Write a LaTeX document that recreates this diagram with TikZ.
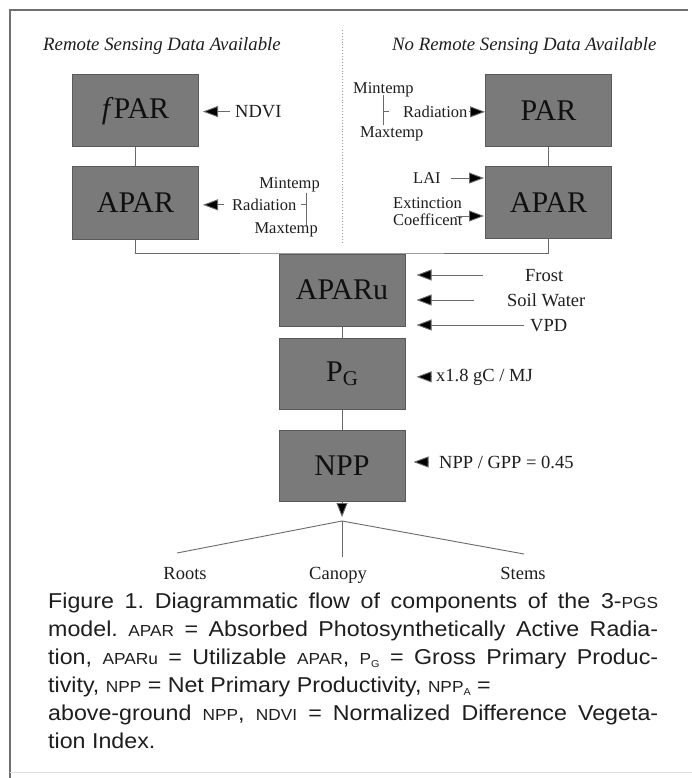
\documentclass[tikz,border=0pt]{standalone}
\usepackage{fontspec}
\setmainfont{Liberation Serif}
\newfontfamily\capfont[FakeStretch=1.08]{Liberation Sans}
\usetikzlibrary{arrows.meta}
\definecolor{boxfill}{HTML}{7A7A7A}
\definecolor{boxedge}{HTML}{5A5A5A}
\definecolor{boxtext}{HTML}{101010}
\definecolor{linegray}{HTML}{6A6A6A}
\definecolor{labeltext}{HTML}{1E1E1E}
\definecolor{framegray}{HTML}{707070}
\newcommand{\smc}[1]{{\fontsize{16}{16}\selectfont #1}}
\newcommand{\capline}[1]{\makebox[610pt][s]{#1}}
\frenchspacing
\begin{document}
\begin{tikzpicture}[x=1pt,y=-1pt,
  box/.style={draw=boxedge, fill=boxfill, line width=1pt, minimum width=126pt,
    minimum height=72pt, inner sep=0pt, text=boxtext, font=\fontsize{30}{30}\selectfont},
  lbl/.style={inner sep=0pt, text=labeltext, font=\fontsize{18.5}{20}\selectfont},
  slbl/.style={inner sep=0pt, text=labeltext, font=\fontsize{16.5}{18}\selectfont},
  hdr/.style={inner sep=0pt, text=labeltext, font=\fontsize{18.8}{20}\selectfont\itshape},
  capt/.style={inner sep=0pt, anchor=base west, text=labeltext, font=\capfont\fontsize{21.5}{28}\selectfont},
  link/.style={draw=linegray, line width=0.9pt},
  arr/.style={link, -{Triangle[length=15pt,width=11pt,fill=black]}},
  frame/.style={draw=framegray, line width=1.4pt}]
\useasboundingbox (0,0) rectangle (692,778);
\fill[white] (0,0) rectangle (692,778);

% frame
\draw[frame] (10,778) -- (10,10) -- (688,10);
\draw[draw=black!12, line width=0.8pt] (10,772) -- (692,772);
\draw[draw=black!40, line width=0.9pt, dotted] (342,30) -- (342,243);

% headers
\node[hdr, anchor=base west] (hl) at (43,51) {Remote Sensing Data Available};
\node[hdr, anchor=base west] (hr) at (392,51) {No Remote Sensing Data Available};

% boxes
\node[box] (fpar) at (135.5,111) {\textit{f}PAR};
\node[box] (aparL) at (135.5,203) {APAR};
\node[box] (par) at (548.5,111) {PAR};
\node[box] (aparR) at (548.5,202.5) {APAR};
\node[box] (aparu) at (342,290) {APARu};
\node[box, minimum height=71pt] (pg) at (342,373.5) {P\raisebox{-0.28ex}{\fontsize{21}{21}\selectfont G}};
\node[box, minimum height=71pt] (npp) at (342,465.5) {NPP};

% box links
\coordinate (jn) at (342,253);
\draw[link] (fpar.south) -- (aparL.north);
\draw[link] (par.south) -- (aparR.north);
\draw[link] (aparL.south) |- (jn) -| (aparR.south);
\draw[link] (aparu.south) -- (pg.north);
\draw[link] (pg.south) -- (npp.north);

% left side inputs
\node[lbl, anchor=base west] (ndvi) at (235,117.5) {NDVI};
\draw[arr, shorten <=5pt, shorten >=4pt] (ndvi.west) -- (ndvi.west -| fpar.east);

\node[slbl, anchor=base east] (minL) at (320,189) {Mintemp};
\node[slbl, anchor=base west] (radL) at (232,210.5) {Radiation};
\node[slbl, anchor=base east] (maxL) at (318,233) {Maxtemp};
\coordinate (lbt) at (306,193);
\coordinate (lbb) at (306,225);
\draw[link] (lbt) -- (lbb);
\draw[link, shorten <=4pt] (radL.east) -- (radL.east -| lbt);
\draw[arr, shorten <=8pt, shorten >=4pt] (radL.west) -- (radL.west -| aparL.east);

% right side inputs
\node[slbl, anchor=base west] (minR) at (353,94) {Mintemp};
\node[slbl, anchor=base west] (maxR) at (360,138) {Maxtemp};
\node[slbl, anchor=base west] (radR) at (403,117.5) {Radiation};
\coordinate (rbt) at (383,95);
\coordinate (rbb) at (383,125);
\draw[link] (rbt) -- (rbb);
\draw[link, shorten >=14pt] (radR.west -| rbt) -- (radR.west);
\draw[arr, shorten <=1pt] (radR.east) -- (radR.east -| par.west);

\node[slbl, anchor=base west] (lai) at (413,183.5) {LAI};
\draw[arr, shorten <=10pt, shorten >=1pt] (lai.east) -- (lai.east -| aparR.west);
\node[slbl, anchor=base west] (ext) at (393,208.5) {Extinction};
\node[slbl, anchor=base west] (coef) at (393,225.5) {Coefficent};
\coordinate (extA) at (456,216);
\draw[arr, shorten >=1pt] (extA) -- (extA -| aparR.west);

% APARu inputs
\node[lbl, anchor=base west] (frost) at (525,281) {Frost};
\node[lbl, anchor=base west] (soil) at (507,306) {Soil Water};
\node[lbl, anchor=base west] (vpd) at (530,331) {VPD};
\coordinate (frS) at (483,275);
\coordinate (soS) at (474,300);
\coordinate (vpS) at (524,325);
\draw[arr, shorten >=11pt] (frS) -- (frS -| aparu.east);
\draw[arr, shorten >=11pt] (soS) -- (soS -| aparu.east);
\draw[arr, shorten >=11pt] (vpS) -- (vpS -| aparu.east);

\node[lbl, anchor=base west] (x18) at (436,381) {x1.8 gC / MJ};
\draw[arr, shorten <=5pt, shorten >=11pt] (x18.west) -- (x18.west -| pg.east);
\node[lbl, anchor=base west] (ratio) at (439,468) {NPP / GPP = 0.45};
\draw[arr, shorten <=10pt, shorten >=8pt] (ratio.west) -- (ratio.west -| npp.east);

% allocation fork
\coordinate (tip) at (342,517);
\coordinate (apex) at (342,521);
\coordinate (rt) at (177,553);
\coordinate (ct) at (342,557);
\coordinate (st) at (524,554);
\draw[link, -{Triangle[length=14pt,width=11pt,fill=black]}] (npp.south) -- (tip);
\draw[link] (rt) -- (apex) -- (st);
\draw[link] (apex) -- (ct);
\node[lbl, anchor=base] (roots) at (185,579) {Roots};
\node[lbl, anchor=base] (canopy) at (338,579) {Canopy};
\node[lbl, anchor=base] (stems) at (523,579) {Stems};

% caption
\node[capt] (c1) at (48,608) {\capline{Figure 1. Diagrammatic flow of components of the 3-\smc{PGS}}};
\node[capt] (c2) at (48,636) {\capline{model. \smc{APAR} = Absorbed Photosynthetically Active Radia-}};
\node[capt] (c3) at (48,664) {\capline{tion, \smc{APARu} = Utilizable \smc{APAR}, \smc{P}\raisebox{-0.3ex}{\fontsize{10}{10}\selectfont G} = Gross Primary Produc-}};
\node[capt] (c4) at (48,692) {tivity, \smc{NPP} = Net Primary Productivity, \smc{NPP}\raisebox{-0.3ex}{\fontsize{10}{10}\selectfont A} =};
\node[capt] (c5) at (48,720) {\capline{above-ground \smc{NPP}, \smc{NDVI} = Normalized Difference Vegeta-}};
\node[capt] (c6) at (48,748) {tion Index.};
\end{tikzpicture}
\end{document}
